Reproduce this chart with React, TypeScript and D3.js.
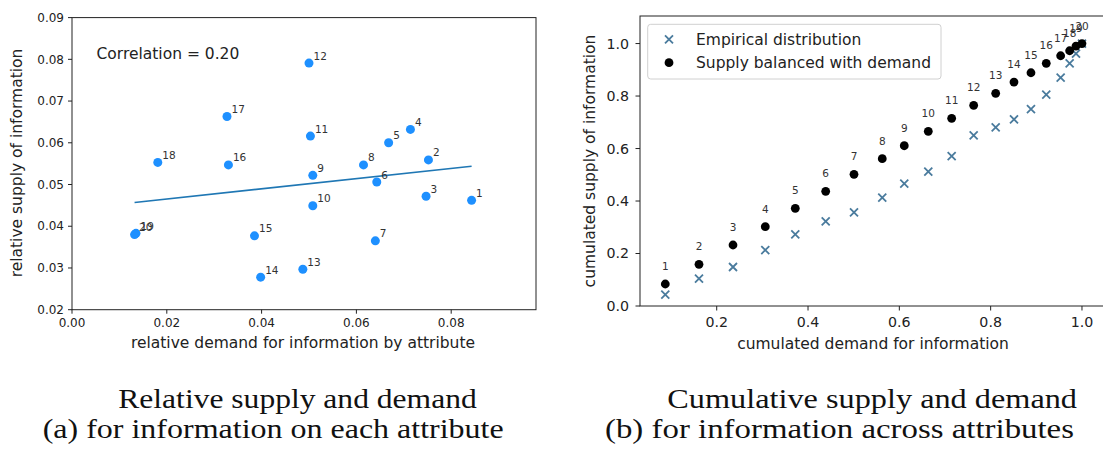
import React from "react";
import * as d3 from "d3";

// ---- Left panel: relative demand / supply per attribute (attributes ranked 1..20) ----
const attrLabels = ["1","2","3","4","5","6","7","8","9","10","11","12","13","14","15","16","17","18","19","20"];
const relDemand = [0.0843,0.0752,0.0747,0.0714,0.0668,0.0643,0.0640,0.0615,0.0508,0.0508,0.0503,0.0500,0.0487,0.0398,0.0385,0.0330,0.0327,0.0181,0.0135,0.0132];
const relSupply = [0.0462,0.0559,0.0472,0.0632,0.0600,0.0506,0.0365,0.0547,0.0522,0.0449,0.0616,0.0791,0.0297,0.0278,0.0377,0.0547,0.0663,0.0553,0.0383,0.0380];
const fitSlope = 0.1217;
const fitIntercept = 0.0441;
const correlationText = "Correlation = 0.20";
const leftXTicks = [0, 0.02, 0.04, 0.06, 0.08];
const leftYTicks = [0.02, 0.03, 0.04, 0.05, 0.06, 0.07, 0.08, 0.09];

// ---- Right panel: cumulative ----
const cumDemand = [0.0874,0.1612,0.2357,0.3064,0.3721,0.4387,0.5007,0.5626,0.6108,0.6634,0.7146,0.7628,0.8110,0.8511,0.8883,0.9218,0.9533,0.9730,0.9869,1.0];
const cumBalanced = [0.0838,0.1588,0.2324,0.3021,0.3722,0.4370,0.5017,0.5613,0.6107,0.6655,0.7150,0.7646,0.8103,0.8533,0.8888,0.9246,0.9535,0.9726,0.9905,1.0];
const cumEmpirical = [0.0430,0.1041,0.1486,0.2133,0.2730,0.3225,0.3568,0.4127,0.4660,0.5117,0.5714,0.6502,0.6806,0.7111,0.7505,0.8051,0.8698,0.9244,0.9613,1.0];
const rightXTicks = [0.2, 0.4, 0.6, 0.8, 1.0];
const rightYTicks = [0.0, 0.2, 0.4, 0.6, 0.8, 1.0];
const legendLabels = ["Empirical distribution", "Supply balanced with demand"];

const SANS = "DejaVu Sans, sans-serif";
const SERIF = "Liberation Serif, serif";

export default function App() {
  // left scales
  const lx = d3.scaleLinear().domain([0, 0.09789]).range([72, 536]);
  const ly = d3.scaleLinear().domain([0.02, 0.09]).range([309.7, 17.6]);
  // right scales
  const rx = d3.scaleLinear().domain([0.032, 1.05]).range([640, 1104.8]);
  const ry = d3.scaleLinear().domain([0, 1.105]).range([306, 16]);

  const xExt = d3.extent(relDemand) as [number, number];
  const fitLine = d3.line<number>().x((d) => lx(d)).y((d) => ly(fitIntercept + fitSlope * d));

  const crossColor = "#4a7b9d";
  const cs = 4;

  return (
    <svg width={1103} height={449} style={{ position: "absolute", left: 0, top: 0, background: "#fff" }}>
      <rect x={0} y={0} width={1103} height={449} fill="#fff" />
      {/* ===== Left panel ===== */}
      <g>
        <path d={fitLine(xExt) || ""} stroke="#1f77b4" strokeWidth={1.6} fill="none" />
        {relDemand.map((d, i) => (
          <circle key={"lp" + i} cx={lx(d)} cy={ly(relSupply[i])} r={4.5} fill="#1e90ff" />
        ))}
        {relDemand.map((d, i) => (
          <text key={"lt" + i} x={lx(d) + 4.5} y={ly(relSupply[i]) - 3.5} fontFamily={SANS} fontSize={10.5} fill="#333">
            {attrLabels[i]}
          </text>
        ))}
        <text x={96.5} y={59} fontFamily={SANS} fontSize={15.5} fill="#222">{correlationText}</text>
        <rect x={72} y={17.6} width={464} height={292.1} fill="none" stroke="#222" strokeWidth={1} />
        {leftXTicks.map((t) => (
          <g key={"lxt" + t}>
            <line x1={lx(t)} x2={lx(t)} y1={309.7} y2={313.7} stroke="#222" />
            <text x={lx(t)} y={326.5} textAnchor="middle" fontFamily={SANS} fontSize={12} fill="#222">{t.toFixed(2)}</text>
          </g>
        ))}
        {leftYTicks.map((t) => (
          <g key={"lyt" + t}>
            <line x1={68} x2={72} y1={ly(t)} y2={ly(t)} stroke="#222" />
            <text x={64} y={ly(t)} dy="0.35em" textAnchor="end" fontFamily={SANS} fontSize={12} fill="#222">{t.toFixed(2)}</text>
          </g>
        ))}
        <text x={303} y={348} textAnchor="middle" fontFamily={SANS} fontSize={15.5} fill="#222">relative demand for information by attribute</text>
        <text transform="translate(17,163) rotate(-90)" textAnchor="middle" dy="0.35em" fontFamily={SANS} fontSize={15.5} fill="#222">relative supply of information</text>
      </g>

      {/* ===== Right panel ===== */}
      <g>
        {cumDemand.map((d, i) => {
          const x = rx(d), y = ry(cumEmpirical[i]);
          return (
            <path key={"rc" + i} d={`M${x - cs},${y - cs}L${x + cs},${y + cs}M${x - cs},${y + cs}L${x + cs},${y - cs}`} stroke={crossColor} strokeWidth={1.8} />
          );
        })}
        {cumDemand.map((d, i) => (
          <circle key={"rd" + i} cx={rx(d)} cy={ry(cumBalanced[i])} r={4.4} fill="#000" />
        ))}
        {cumDemand.map((d, i) => (
          <text key={"rt" + i} x={rx(d)} y={ry(cumBalanced[i]) - 14} textAnchor="middle" fontFamily={SANS} fontSize={10.5} fill="#333">
            {attrLabels[i]}
          </text>
        ))}
        <rect x={647.7} y={24.3} width={293.3} height={54.7} rx={3} fill="#fff" fillOpacity={0.8} stroke="#d0d0d0" strokeWidth={1} />
        <path d={`M${669 - cs},${39.3 - cs}L${669 + cs},${39.3 + cs}M${669 - cs},${39.3 + cs}L${669 + cs},${39.3 - cs}`} stroke={crossColor} strokeWidth={1.8} />
        <circle cx={669} cy={62.7} r={4.4} fill="#000" />
        <text x={696} y={39.3} dy="0.35em" fontFamily={SANS} fontSize={15.5} fill="#222">{legendLabels[0]}</text>
        <text x={696} y={62.7} dy="0.35em" fontFamily={SANS} fontSize={15.5} fill="#222">{legendLabels[1]}</text>
        <rect x={640} y={16} width={470} height={290} fill="none" stroke="#222" strokeWidth={1} />
        {rightXTicks.map((t) => (
          <g key={"rxt" + t}>
            <line x1={rx(t)} x2={rx(t)} y1={306} y2={310.5} stroke="#222" />
            <text x={rx(t)} y={327} textAnchor="middle" fontFamily={SANS} fontSize={14.2} fill="#222">{t.toFixed(1)}</text>
          </g>
        ))}
        {rightYTicks.map((t) => (
          <g key={"ryt" + t}>
            <line x1={635.5} x2={640} y1={ry(t)} y2={ry(t)} stroke="#222" />
            <text x={629} y={ry(t)} dy="0.35em" textAnchor="end" fontFamily={SANS} fontSize={14.2} fill="#222">{t.toFixed(1)}</text>
          </g>
        ))}
        <text x={873} y={349} textAnchor="middle" fontFamily={SANS} fontSize={15.5} fill="#222">cumulated demand for information</text>
        <text transform="translate(590,161) rotate(-90)" textAnchor="middle" dy="0.35em" fontFamily={SANS} fontSize={15.5} fill="#222">cumulated supply of information</text>
      </g>

      {/* ===== Captions ===== */}
      <g fontFamily={SERIF} fontSize={27.5} fill="#111">
        <text x={118.3} y={408} textLength={358.4} lengthAdjust="spacingAndGlyphs">Relative supply and demand</text>
        <text x={42.7} y={438} textLength={461} lengthAdjust="spacingAndGlyphs">(a) for information on each attribute</text>
        <text x={667.3} y={408} textLength={409.7} lengthAdjust="spacingAndGlyphs">Cumulative supply and demand</text>
        <text x={605} y={438} textLength={469} lengthAdjust="spacingAndGlyphs">(b) for information across attributes</text>
      </g>
    </svg>
  );
}
